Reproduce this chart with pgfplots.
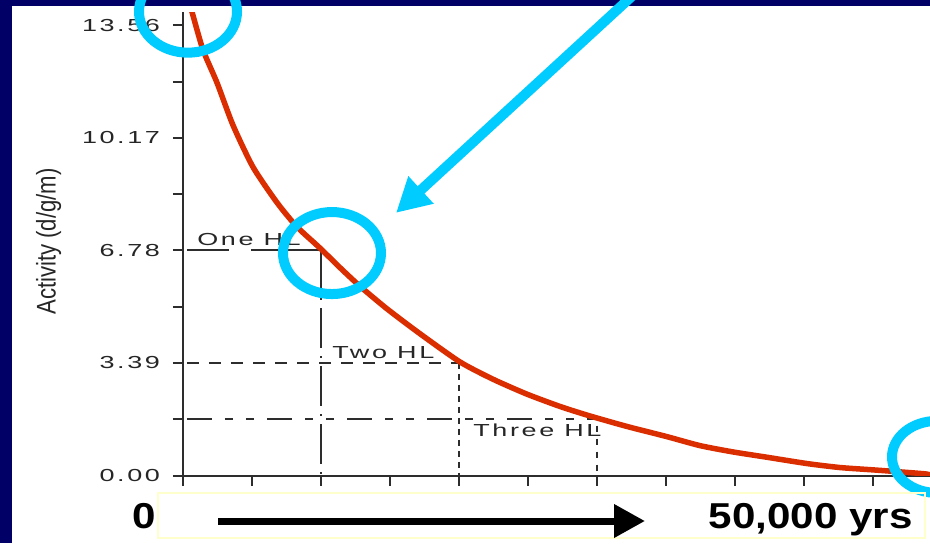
\documentclass[border=0pt]{standalone}
\usepackage{fontspec}
\setmainfont{Liberation Sans}
\newfontfamily\plotfont[FakeStretch=1.55,LetterSpace=15]{Liberation Sans}
\newfontfamily\labfont[FakeStretch=0.82]{Liberation Sans}
\newfontfamily\bigfont[FakeStretch=1.17]{Liberation Sans}
\usepackage{pgfplots}
\pgfplotsset{compat=1.18}
\usetikzlibrary{arrows.meta}
\definecolor{navy}{RGB}{0,0,102}
\definecolor{hilite}{RGB}{0,204,255}
\definecolor{decay}{RGB}{218,45,0}
\definecolor{boxy}{RGB}{255,255,204}
\definecolor{refline}{RGB}{45,45,45}

\begin{document}
\begin{tikzpicture}
\path[use as bounding box] (0,0) rectangle (465pt,271.5pt);
\clip (0,0) rectangle (465pt,271.5pt);
\fill[navy] (0,0) rectangle (465pt,271.5pt);
\fill[white] (6pt,0) rectangle (465pt,268.5pt);

\begin{axis}[
  at={(91.5pt,33.75pt)}, anchor=south west,
  scale only axis, width=373.5pt, height=231.75pt,
  xmin=0, xmax=31016, ymin=0, ymax=13.96,
  axis x line=bottom, axis y line=left,
  axis line style={-, line width=1pt, refline},
  tick align=outside, major tick length=5pt, minor tick length=5pt,
  tick style={line width=1pt, refline},
  xtick={0,2865,5730,8595,11460,14325,17190,20055,22920,25785,28650},
  xticklabels={\relax,\relax,\relax,\relax,\relax,\relax,\relax,\relax,\relax,\relax,\relax},
  scaled x ticks=false,
  ytick={0,3.39,6.78,10.17,13.56},
  yticklabels={0.00,3.39,6.78,10.17,13.56},
  minor ytick={1.695,5.085,8.475,11.865},
  yticklabel style={font=\plotfont\fontsize{8.7}{10}\selectfont, text=black!85, xshift=-3pt},
  ylabel={Activity (d/g/m)},
  every axis y label/.style={at={(rel axis cs:-0.180,0.505)}, rotate=90, anchor=center,
    font=\labfont\fontsize{13.5}{15}\selectfont, text=black!85},
  clip mode=individual,
]
% half-life guide lines
\addplot[refline, line width=0.9pt, dash pattern=on 21pt off 11pt on 40pt off 4pt] coordinates {(166,6.78) (5730,6.78)};
\addplot[refline, line width=0.9pt, dash pattern=on 20pt off 4pt on 1pt off 4pt] coordinates {(5730,6.78) (5730,0)};
\addplot[refline, line width=0.9pt, dash pattern=on 6pt off 5pt] coordinates {(166,3.39) (11460,3.39)};
\addplot[refline, line width=0.9pt, dash pattern=on 3pt off 2.5pt] coordinates {(11460,3.39) (11460,0)};
\addplot[refline, line width=0.9pt, dash pattern=on 12.5pt off 6.5pt on 4pt off 6.5pt on 4pt off 6.5pt] coordinates {(166,1.695) (17190,1.695)};
\addplot[refline, line width=0.9pt, dash pattern=on 3pt off 3.5pt] coordinates {(17190,1.50) (17190,0)};

% decay curve
\addplot[decay, line width=2.75pt, line join=round, smooth, tension=0.4] coordinates {
(0,14.9) (374,13.96) (830,12.82) (1412,11.83) (2076,10.55) (2906,9.29)
(3903,8.22) (4733,7.49) (5688,6.85) (6519,6.26) (7349,5.70) (8470,5.02)
(9840,4.27) (11501,3.42) (12871,2.90) (14283,2.45) (15653,2.08) (16774,1.82)
(18020,1.56) (18684,1.43) (20096,1.17) (21466,0.90) (22836,0.71) (24248,0.55)
(25908,0.36) (27279,0.24) (28649,0.17) (29770,0.11) (30808,0.05) (31016,0.02)};

\node[anchor=base west, inner sep=0, font=\plotfont\fontsize{8.7}{10}\selectfont, text=black!85] at (axis cs:581,6.94) {One HL};
\node[anchor=base west, inner sep=0, font=\plotfont\fontsize{8.7}{10}\selectfont, text=black!85] at (axis cs:6187,3.51) {Two HL};
\node[anchor=base west, inner sep=0, font=\plotfont\fontsize{8.7}{10}\selectfont, text=black!85] at (axis cs:12041,1.16) {Three HL};

\coordinate (c1) at (axis cs:208,13.97);
\coordinate (c2) at (axis cs:6186,6.70);
\coordinate (c3) at (axis cs:31306,0.56);
\coordinate (a0) at (axis cs:18933,14.63);
\coordinate (a1) at (axis cs:8844,7.91);
\end{axis}

% highlights
\draw[hilite, line width=5pt] (c1) ellipse [x radius=24.5pt, y radius=20.5pt];
\draw[hilite, line width=5pt] (c2) ellipse [x radius=24.5pt, y radius=20.5pt];
\draw[hilite, line width=5pt] (c3) ellipse [x radius=22.5pt, y radius=18pt];
\draw[hilite, line width=5pt, -{Triangle[length=17pt,width=17.5pt]}] (a0) -- (a1);

% time arrow below the axis (pixel grid, y down)
\begin{scope}[yshift=271.5pt, x=0.5pt, y=-0.5pt]
\draw[boxy, line width=1pt] (158,493) rectangle (925,538);
\draw[black, line width=3.5pt, -{Triangle[length=15.5pt,width=16pt]}] (218,521) -- (645,521);
\node[anchor=base east, inner sep=0, font=\bigfont\bfseries\fontsize{18}{20}\selectfont] at (156,528) {0};
\node[anchor=base east, inner sep=0, font=\bigfont\bfseries\fontsize{18}{20}\selectfont] at (913,528) {50,000 yrs};
\end{scope}
\end{tikzpicture}
\end{document}
